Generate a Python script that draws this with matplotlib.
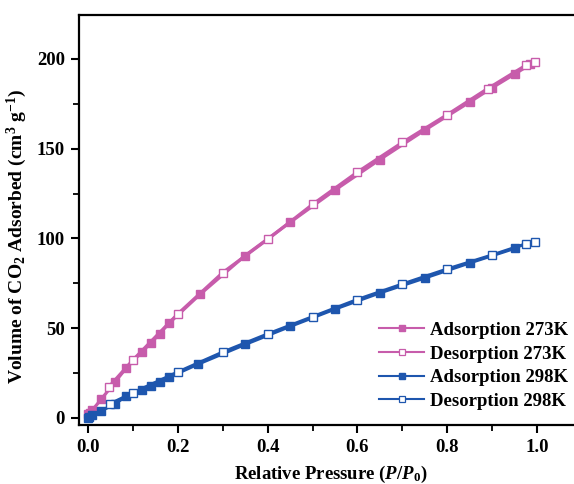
import matplotlib
matplotlib.use("Agg")
import matplotlib.pyplot as plt
from matplotlib.lines import Line2D
from matplotlib.ticker import MultipleLocator

# ---- data ----
ads273_x = [0.001, 0.005, 0.01, 0.03, 0.06, 0.085, 0.12, 0.14, 0.16, 0.18, 0.25, 0.35,
            0.45, 0.55, 0.65, 0.75, 0.85, 0.90, 0.95, 0.985]
ads273_v = [2, 3, 4.5, 10.6, 20, 27.8, 36.8, 41.8, 47, 52.7, 69, 90.5,
            109, 127, 144, 160.4, 176, 184, 191.6, 197]
des273_x = [0.995, 0.975, 0.89, 0.80, 0.70, 0.60, 0.50, 0.40, 0.30, 0.20, 0.10, 0.047]
des273_v = [198.5, 196.5, 183.5, 169, 153.5, 137, 119, 99.5, 81, 58, 32.3, 17.5]

ads298_x = [0.0, 0.003, 0.008, 0.03, 0.06, 0.085, 0.12, 0.14, 0.16, 0.18, 0.245, 0.35,
            0.45, 0.55, 0.65, 0.75, 0.85, 0.95]
ads298_v = [0.2, 0.8, 1.5, 4, 8, 12, 15.6, 17.8, 20, 22.7, 30, 41,
            51, 60.7, 69.7, 78, 86.4, 94.5]
des298_x = [0.995, 0.975, 0.90, 0.80, 0.70, 0.60, 0.50, 0.40, 0.30, 0.20, 0.10, 0.05]
des298_v = [98, 97, 90.8, 83, 74.6, 66, 56.4, 46.8, 36.7, 25.6, 14, 8]

labels = ["Adsorption 273K", "Desorption 273K", "Adsorption 298K", "Desorption 298K"]
xticks = [0.0, 0.2, 0.4, 0.6, 0.8, 1.0]
yticks = [0, 50, 100, 150, 200]

# ---- style ----
plt.rcParams['font.family'] = ['Liberation Serif', 'DejaVu Serif']
plt.rcParams['font.weight'] = 'bold'
plt.rcParams['mathtext.fontset'] = 'custom'
plt.rcParams['mathtext.rm'] = 'Liberation Serif:bold'
plt.rcParams['mathtext.bf'] = 'Liberation Serif:bold'
plt.rcParams['mathtext.it'] = 'Liberation Serif:italic:bold'

PINK = '#C75CAB'
BLUE = '#1E56AE'

W, H = 574, 484
fig = plt.figure(figsize=(W / 100, H / 100), dpi=100)
left, right, top, bottom = 79, 582, 15, 425
ax = fig.add_axes([left / W, (H - bottom) / H, (right - left) / W, (bottom - top) / H])

lw = 2.3
ms = 6.3
ax.plot(ads273_x, ads273_v, '-s', color=PINK, lw=lw, ms=ms, mfc=PINK, mec=PINK, zorder=3)
ax.plot(des273_x, des273_v, '-s', color=PINK, lw=lw, ms=ms, mfc='white', mec=PINK, mew=1.0, zorder=4)
ax.plot(ads298_x, ads298_v, '-s', color=BLUE, lw=lw, ms=ms, mfc=BLUE, mec=BLUE, zorder=3)
ax.plot(des298_x, des298_v, '-s', color=BLUE, lw=lw, ms=ms, mfc='white', mec=BLUE, mew=1.0, zorder=4)

ax.set_xlim(-0.02, 1.1)
ax.set_ylim(-3.9, 224.5)
ax.set_xticks(xticks)
ax.set_yticks(yticks)
ax.xaxis.set_minor_locator(MultipleLocator(0.1))
ax.yaxis.set_minor_locator(MultipleLocator(25))
ax.tick_params(which='major', direction='out', length=6, width=1.5, labelsize=13.5, pad=4)
ax.tick_params(which='minor', direction='out', length=4, width=1.3)
for lab in ax.get_xticklabels() + ax.get_yticklabels():
    lab.set_fontweight('bold')
for s in ax.spines.values():
    s.set_linewidth(1.6)

ax.set_xlabel(r"Relative Pressure ($P$/$P_0$)", fontsize=13.5, fontweight='bold', labelpad=6)
ax.set_ylabel(r"Volume of CO$_2$ Adsorbed (cm$^3$ g$^{-1}$)", fontsize=14, fontweight='bold')
ax.yaxis.set_label_coords(-0.099, 0.461)

handles = [
    Line2D([], [], color=PINK, lw=1.5, marker='s', ms=5, mfc=PINK, mec=PINK),
    Line2D([], [], color=PINK, lw=1.5, marker='s', ms=5, mfc='white', mec=PINK, mew=0.9),
    Line2D([], [], color=BLUE, lw=1.5, marker='s', ms=5, mfc=BLUE, mec=BLUE),
    Line2D([], [], color=BLUE, lw=1.5, marker='s', ms=5, mfc='white', mec=BLUE, mew=0.9),
]
leg = fig.legend(handles, labels, loc='lower right', bbox_to_anchor=(568 / W, (H - 410) / H),
                 frameon=False, fontsize=13.5, handlelength=2.4, handletextpad=0.3,
                 labelspacing=0.35, borderpad=0, borderaxespad=0)
for t in leg.get_texts():
    t.set_fontweight('bold')

fig.savefig("out.png", dpi=100)
